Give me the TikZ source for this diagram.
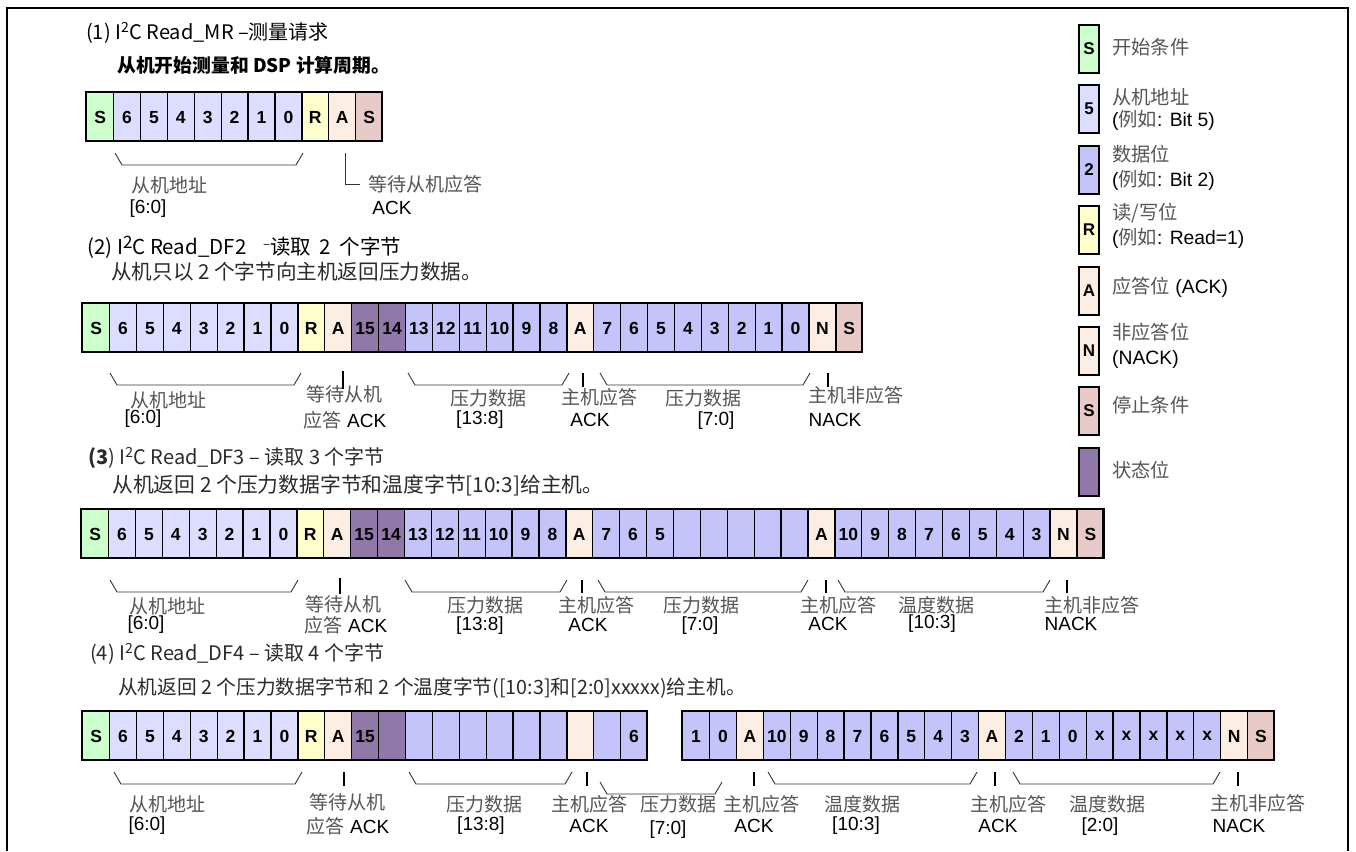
\documentclass[tikz,border=0pt]{standalone}
\usepackage{fontspec}
\setmainfont{Liberation Sans}
\newfontfamily\cjk{Noto Sans CJK SC}
\definecolor{startc}{HTML}{CCFFCC}
\definecolor{addrc}{HTML}{DDDDFF}
\definecolor{datac}{HTML}{C4C4FA}
\definecolor{rwc}{HTML}{FFFFCC}
\definecolor{ackc}{HTML}{FDEEE3}
\definecolor{stopc}{HTML}{E8CBC8}
\definecolor{statc}{HTML}{9079A9}
\definecolor{labgray}{HTML}{555555}
\definecolor{ttlgray}{HTML}{2A2A2A}
\newcommand\zh[1]{{\cjk\color{labgray}#1}}
\newcommand\bitrow[5]{% prefix, x0, ytop, n, list
  \foreach \st/\lb [count=\i from 0] in {#5} {
    \node[cell, fill=\st] (#1-\i) at ({#2+\i*26.9}, #3) {\lb};
  }
  \draw[line width=2.6pt] (#2,#3) rectangle ({#2+#4*26.9},{#3+49});
}
\newcommand\brc[4]{% x1, x2, ytop, ybot
  \draw[bracel] (#1,#3) -- ({#1+7},#4) -- ({#2-7},#4) -- (#2,#3);
}
\newcommand\tck[3]{\draw[tickl] (#1,#2) -- (#1,#3);}
\tikzset{
  cell/.style={draw=black, line width=1.3pt, minimum width=26.9pt, minimum height=49pt,
    inner sep=0pt, anchor=north west, font=\bfseries\fontsize{17.5}{18}\selectfont},
  lcell/.style={draw=black, line width=2pt, minimum width=20pt, minimum height=48pt,
    inner sep=0pt, anchor=north west, font=\bfseries\fontsize{17}{18}\selectfont},
  lab/.style={inner sep=0pt, font=\fontsize{19}{22}\selectfont},
  leg/.style={inner sep=0pt, anchor=west, font=\fontsize{19.3}{22}\selectfont},
  ttl/.style={inner sep=0pt, anchor=west, font=\cjk\fontsize{20}{24}\selectfont},
  sub/.style={inner sep=0pt, anchor=west, font=\cjk\fontsize{19.7}{24}\selectfont},
  bracel/.style={draw=black!80, line width=0.9pt},
  tickl/.style={draw=black, line width=1.2pt},
}
\begin{document}
\begin{tikzpicture}[x=1pt,y=-1pt]
\useasboundingbox (0,0) rectangle (1356,851);
\draw[line width=1.5pt] (7,851) -- (7,8) -- (1348,8) -- (1348,851);

% ---------- (1)
\node[ttl] (t1) at (86,33) {(1) I\textsuperscript{2}C Read\_MR –测量请求};
\node[sub,font=\cjk\bfseries\fontsize{18.8}{24}\selectfont] (s1) at (117,65) {从机开始测量和 DSP 计算周期。};
\bitrow{a}{86}{92}{11}{startc/S,addrc/6,addrc/5,addrc/4,addrc/3,addrc/2,addrc/1,addrc/0,rwc/R,ackc/A,stopc/S}
\brc{115}{303}{153}{165}
\node[lab] (a-l1) at (169,185) {\zh{从机地址}};
\node[lab] (a-l2) at (148,209) {[6:0]};
\node[lab,anchor=west] (a-l3) at (368,184) {\zh{等待从机应答}};
\node[lab] (a-l4) at (392,208) {ACK};
\coordinate (a-t) at (345,153);
\draw[bracel] (a-t) |- ([xshift=-8pt]a-l3.west);

% ---------- (2)
\node[ttl,text=black,font=\cjk\fontsize{20.5}{24}\selectfont] (t2) at (87,247) {(2) I\raisebox{6pt}{\fontsize{17}{17}\selectfont 2}C Read\_DF2 \hspace{12pt}\raisebox{6pt}{\fontsize{13}{13}\selectfont –}读取\hspace{4pt} 2\hspace{4pt} 个字节};
\node[sub,text=ttlgray,font=\cjk\fontsize{20.6}{24}\selectfont] (s2) at (111,272) {从机只以 2 个字节向主机返回压力数据。};
\bitrow{b}{82}{303}{29}{startc/S,addrc/6,addrc/5,addrc/4,addrc/3,addrc/2,addrc/1,addrc/0,rwc/R,ackc/A,statc/15,statc/14,datac/13,datac/12,datac/11,datac/10,datac/9,datac/8,ackc/A,datac/7,datac/6,datac/5,datac/4,datac/3,datac/2,datac/1,datac/0,ackc/N,stopc/S}
\brc{110}{301}{373}{385}
\tck{343}{371}{389}
\brc{408}{569}{373}{385}
\tck{583}{373}{387}
\brc{600}{810}{373}{385}
\tck{828}{373}{387}
\node[lab] (b-l1) at (168,400) {\zh{从机地址}};
\node[lab] (b-l2) at (143,419) {[6:0]};
\node[lab] (b-l3) at (344,394) {\zh{等待从机}};
\node[lab] (b-l4) at (345,420) {\zh{应答} ACK};
\node[lab] (b-l5) at (488,398) {\zh{压力数据}};
\node[lab] (b-l6) at (480,420) {[13:8]};
\node[lab] (b-l7) at (599,397) {\zh{主机应答}};
\node[lab] (b-l8) at (590,420) {ACK};
\node[lab] (b-l9) at (703,398) {\zh{压力数据}};
\node[lab] (b-l10) at (716,421) {[7:0]};
\node[lab] (b-l11) at (856,395) {\zh{主机非应答}};
\node[lab] (b-l12) at (835,420) {NACK};

% ---------- (3)
\node[ttl,text=ttlgray] (t3) at (88,458) {{\bfseries(3}) I\textsuperscript{2}C Read\_DF3 – 读取 3 个字节};
\node[sub,text=ttlgray,font=\cjk\fontsize{20.8}{24}\selectfont] (s3) at (112,485) {从机返回 2 个压力数据字节和温度字节[10:3]给主机。};
\bitrow{c}{81}{509}{38}{startc/S,addrc/6,addrc/5,addrc/4,addrc/3,addrc/2,addrc/1,addrc/0,rwc/R,ackc/A,statc/15,statc/14,datac/13,datac/12,datac/11,datac/10,datac/9,datac/8,ackc/A,datac/7,datac/6,datac/5,datac/{},datac/{},datac/{},datac/{},datac/{},ackc/A,datac/10,datac/9,datac/8,datac/7,datac/6,datac/5,datac/4,datac/3,ackc/N,stopc/S}
\brc{110}{298}{580}{592}
\tck{340}{578}{594}
\brc{405}{567}{580}{592}
\tck{582}{580}{593}
\brc{598}{808}{580}{592}
\tck{826}{580}{593}
\brc{838}{1050}{580}{592}
\tck{1067}{580}{593}
\node[lab] (c-l1) at (167,606) {\zh{从机地址}};
\node[lab] (c-l2) at (146,625) {[6:0]};
\node[lab] (c-l3) at (343,604) {\zh{等待从机}};
\node[lab] (c-l4) at (346,625) {\zh{应答} ACK};
\node[lab] (c-l5) at (485,605) {\zh{压力数据}};
\node[lab] (c-l6) at (480,626) {[13:8]};
\node[lab] (c-l7) at (596,605) {\zh{主机应答}};
\node[lab] (c-l8) at (588,625) {ACK};
\node[lab] (c-l9) at (701,605) {\zh{压力数据}};
\node[lab] (c-l10) at (700,626) {[7:0]};
\node[lab] (c-l11) at (838,605) {\zh{主机应答}};
\node[lab] (c-l12) at (828,624) {ACK};
\node[lab] (c-l13) at (936,605) {\zh{温度数据}};
\node[lab] (c-l14) at (932,624) {[10:3]};
\node[lab] (c-l15) at (1092,605) {\zh{主机非应答}};
\node[lab] (c-l16) at (1071,624) {NACK};

% ---------- (4)
\node[ttl,text=ttlgray] (t4) at (90,654) {(4) I\textsuperscript{2}C Read\_DF4 – 读取 4 个字节};
\node[sub,text=ttlgray] (s4) at (118,688) {从机返回 2 个压力数据字节和 2 个温度字节([10:3]和[2:0]xxxxx)给主机。};
\bitrow{d}{82}{711}{21}{startc/S,addrc/6,addrc/5,addrc/4,addrc/3,addrc/2,addrc/1,addrc/0,rwc/R,ackc/A,statc/15,statc/{},datac/{},datac/{},datac/{},datac/{},datac/{},datac/{},ackc/{},datac/{},datac/6}
\bitrow{e}{682}{711}{22}{datac/1,datac/0,ackc/A,datac/10,datac/9,datac/8,datac/7,datac/6,datac/5,datac/4,datac/3,ackc/A,datac/2,datac/1,datac/0,datac/x,datac/x,datac/x,datac/x,datac/x,ackc/N,stopc/S}
\brc{114}{302}{772}{784}
\tck{344}{772}{786}
\brc{409}{572}{772}{784}
\tck{587}{772}{786}
\brc{600}{722}{782}{794}
\tck{754}{772}{786}
\brc{768}{977}{772}{784}
\tck{995}{772}{786}
\brc{1013}{1220}{772}{784}
\tck{1238}{772}{786}
\node[lab] (d-l1) at (167,804) {\zh{从机地址}};
\node[lab] (d-l2) at (147,826) {[6:0]};
\node[lab] (d-l3) at (347,802) {\zh{等待从机}};
\node[lab] (d-l4) at (348,826) {\zh{应答} ACK};
\node[lab] (d-l5) at (484,804) {\zh{压力数据}};
\node[lab] (d-l6) at (481,826) {[13:8]};
\node[lab] (d-l7) at (589,804) {\zh{主机应答}};
\node[lab] (d-l8) at (589,826) {ACK};
\node[lab] (d-l9) at (678,804) {\zh{压力数据}};
\node[lab] (d-l10) at (668,830) {[7:0]};
\node[lab] (d-l11) at (761,804) {\zh{主机应答}};
\node[lab] (d-l12) at (754,826) {ACK};
\node[lab] (d-l13) at (862,804) {\zh{温度数据}};
\node[lab] (d-l14) at (856,826) {[10:3]};
\node[lab] (d-l15) at (1008,804) {\zh{主机应答}};
\node[lab] (d-l16) at (998,826) {ACK};
\node[lab] (d-l17) at (1107,804) {\zh{温度数据}};
\node[lab] (d-l18) at (1100,827) {[2:0]};
\node[lab] (d-l19) at (1258,803) {\zh{主机非应答}};
\node[lab] (d-l20) at (1239,826) {NACK};

% ---------- legend
\node[lcell,fill=startc] (g1) at (1078,24) {S};
\node[leg] (g1a) at (1112,47) {\zh{开始条件}};
\node[lcell,fill=addrc] (g2) at (1078,84) {5};
\node[leg] (g2a) at (1112,97) {\zh{从机地址}};
\node[leg] (g2b) at (1112,120) {(\zh{例如}: Bit 5)};
\node[lcell,fill=datac] (g3) at (1078,145) {2};
\node[leg] (g3a) at (1112,154) {\zh{数据位}};
\node[leg] (g3b) at (1112,180) {(\zh{例如}: Bit 2)};
\node[lcell,fill=rwc] (g4) at (1078,205) {R};
\node[leg] (g4a) at (1112,213) {\zh{读/写位}};
\node[leg] (g4b) at (1112,238) {(\zh{例如}: Read=1)};
\node[lcell,fill=ackc] (g5) at (1078,266) {A};
\node[leg] (g5a) at (1112,287) {\zh{应答位} (ACK)};
\node[lcell,fill=ackc] (g6) at (1078,326) {N};
\node[leg] (g6a) at (1112,332) {\zh{非应答位}};
\node[leg] (g6b) at (1112,360) {(NACK)};
\node[lcell,fill=stopc] (g7) at (1078,386) {S};
\node[leg] (g7a) at (1112,405) {\zh{停止条件}};
\node[lcell,fill=statc] (g8) at (1078,447) {};
\node[leg] (g8a) at (1112,470) {\zh{状态位}};
\end{tikzpicture}
\end{document}
